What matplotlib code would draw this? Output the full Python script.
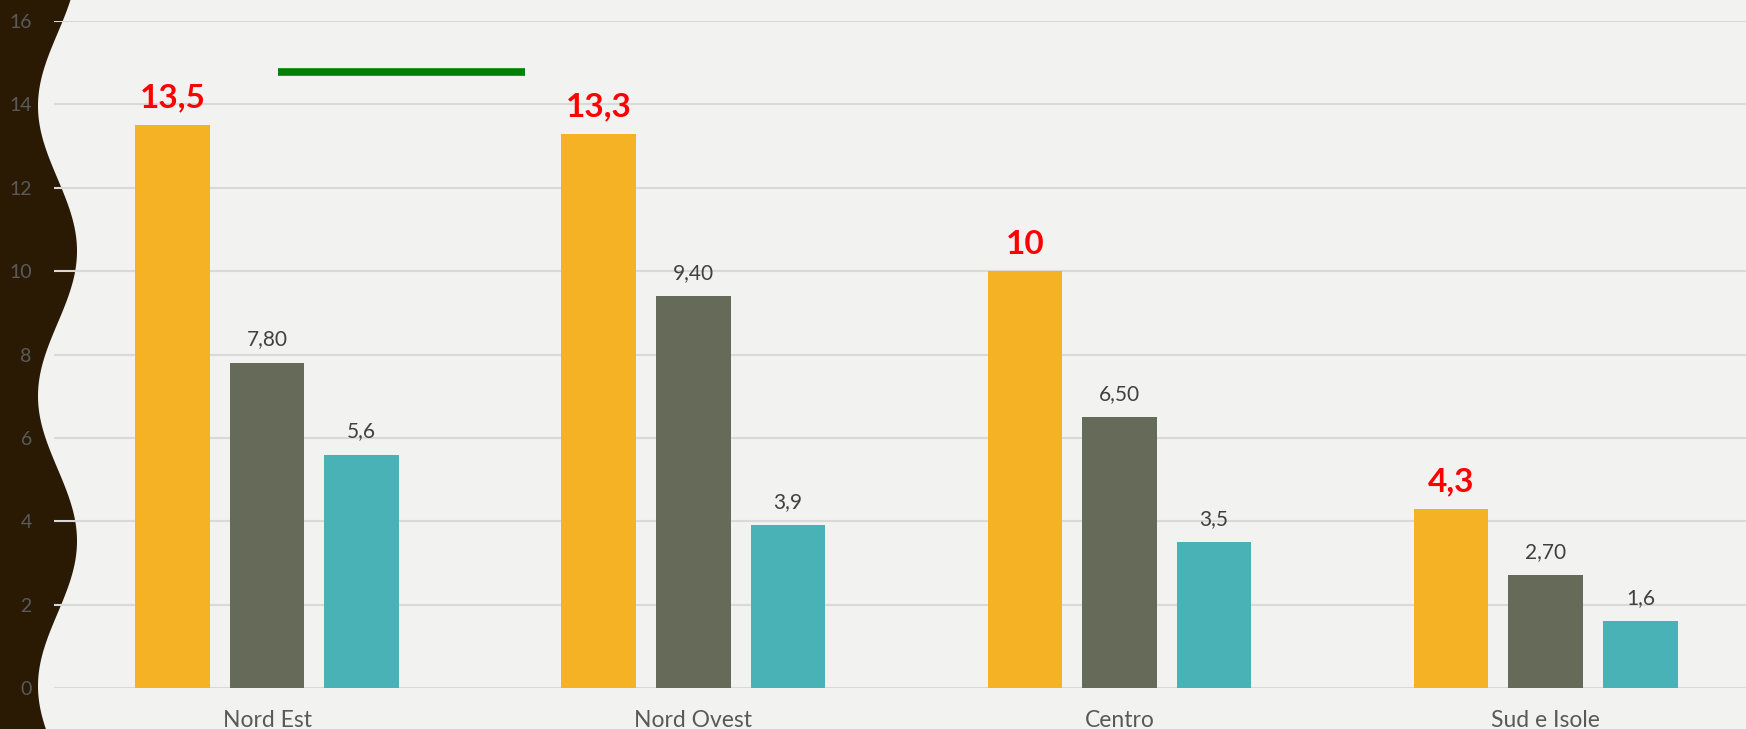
import numpy as np
import matplotlib
matplotlib.use("Agg")
import matplotlib.pyplot as plt
from matplotlib.patches import Polygon

plt.rcParams['font.family'] = ['Lato', 'DejaVu Sans']

regions = ["Nord Est", "Nord Ovest", "Centro", "Sud e Isole"]
serie_a = [13.5, 13.3, 10, 4.3]
serie_b = [7.80, 9.40, 6.50, 2.70]
serie_c = [5.6, 3.9, 3.5, 1.6]
labels_a = ["13,5", "13,3", "10", "4,3"]
labels_b = ["7,80", "9,40", "6,50", "2,70"]
labels_c = ["5,6", "3,9", "3,5", "1,6"]
y_ticks = [0, 2, 4, 6, 8, 10, 12, 14, 16]

W, H = 1746, 729
fig = plt.figure(figsize=(W / 100, H / 100), dpi=100)
fig.patch.set_facecolor("#f2f2f0")

# dark wavy band on the left
yy = np.linspace(0, H, 400)
xx = 57.5 + 19.5 * np.cos(2 * np.pi * (yy - 251) / 290)
pts = [(0, 1)] + [(x / W, 1 - y / H) for x, y in zip(xx, yy)] + [(0, 0)]
fig.patches.append(Polygon(pts, closed=True, transform=fig.transFigure,
                           facecolor="#2a1a04", edgecolor="none", zorder=-1))

ax = fig.add_axes([54 / W, 41 / H, 1 - 54 / W, (688 - 21) / H])
ax.set_facecolor("none")

x = np.arange(len(regions))
w = 0.175
off = 0.222
ax.bar(x - off, serie_a, w, color="#f6b225", zorder=3)
ax.bar(x, serie_b, w, color="#666a59", zorder=3)
ax.bar(x + off, serie_c, w, color="#48b2b6", zorder=3)

for i in x:
    ax.text(i - off, serie_a[i] + 0.3, labels_a[i], ha="center", va="bottom",
            color="#ff0000", fontsize=24, fontweight="bold")
    ax.text(i, serie_b[i] + 0.32, labels_b[i], ha="center", va="bottom",
            color="#404040", fontsize=15)
    ax.text(i + off, serie_c[i] + 0.32, labels_c[i], ha="center", va="bottom",
            color="#404040", fontsize=15)

# green marker line
ax.plot([0.026, 0.604], [14.77, 14.77], color="#008000", lw=5.5,
        solid_capstyle="butt", zorder=4)

ax.set_xlim(-0.5, 3.47)
ax.set_ylim(0, 16)
ax.set_yticks(y_ticks)
ax.set_yticklabels([str(t) for t in y_ticks])
ax.set_xticks(x)
ax.set_xticklabels(regions)
ax.grid(axis="y", color="#d9d9d9", lw=1.5, zorder=0)
ax.set_axisbelow(True)
for s in ax.spines.values():
    s.set_visible(False)
ax.tick_params(axis="y", length=0, pad=16, labelsize=14, labelcolor="#5a5a5a")
ax.tick_params(axis="x", length=0, pad=16, labelsize=16.5, labelcolor="#595959")

fig.savefig("out.png", dpi=100, facecolor=fig.get_facecolor())
